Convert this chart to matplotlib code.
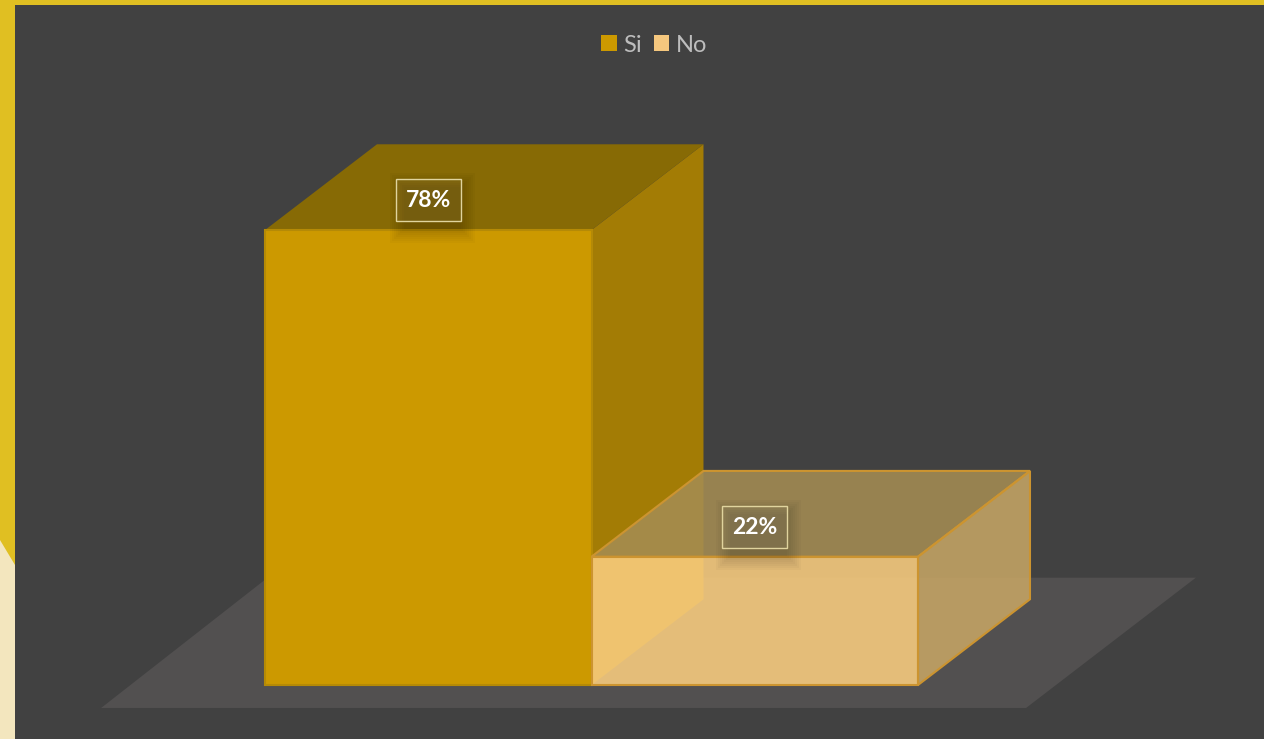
import matplotlib
matplotlib.use("Agg")
import matplotlib.pyplot as plt
from matplotlib.patches import Patch, Polygon, Rectangle

categories = ["Si", "No"]
values = [78, 22]
value_labels = ["78%", "22%"]

BG = "#414141"
FRAME_YELLOW = "#E0BF22"
FRAME_CREAM = "#F3E6BE"
FLOOR = "#525050"

# front, top and side colours of each bar
FRONT = ["#CC9900", "#FCCF80"]
TOP = ["#876A05", "#A58D53"]
SIDE = ["#A37C05", "#C7A665"]
EDGE = ["#B58A06", "#CC9430"]
ALPHA = [1.0, 0.865]

# 3d look: how far the back face sits from the front face, in data units
DEPTH_X = 0.343
DEPTH_Y = 14.7
BAR_W = 1.0

W, H = 1264, 739
PX_PER_X = 326.5
PX_PER_Y = 5.833
X0_PX, Y0_PX = 265, 685

fig = plt.figure(figsize=(W / 100, H / 100), dpi=100, facecolor=BG)
ax = fig.add_axes([0, 0, 1, 1], facecolor=BG)
ax.set_xlim(-X0_PX / PX_PER_X, (W - X0_PX) / PX_PER_X)
ax.set_ylim(-(H - Y0_PX) / PX_PER_Y, Y0_PX / PX_PER_Y)
ax.axis("off")

# yellow / cream frame of the slide, in axes fractions
frame = ax.transAxes
ax.add_patch(Rectangle((0, 1 - 5 / H), 1, 5 / H, transform=frame, fc=FRAME_YELLOW, ec="none"))
ax.add_patch(Rectangle((0, 0), 15 / W, 1, transform=frame, fc=FRAME_YELLOW, ec="none"))
ax.add_patch(Polygon([(0, 0), (15 / W, 0), (15 / W, 1 - 565 / H), (0, 1 - 540 / H)],
                     transform=frame, fc=FRAME_CREAM, ec="none"))

# floor
fl, fr, fb, ft = -0.502, 2.331, -3.94, 18.4
ax.add_patch(Polygon([(fl, fb), (fr, fb), (fr + 0.52, ft), (fl + 0.51, ft)],
                     fc=FLOOR, ec="none", zorder=1))


def draw_bar(i, zorder):
    x0, x1, v = i, i + BAR_W, values[i]
    a = ALPHA[i]
    top = [(x0, v), (x1, v), (x1 + DEPTH_X, v + DEPTH_Y), (x0 + DEPTH_X, v + DEPTH_Y)]
    side = [(x1, 0), (x1 + DEPTH_X, DEPTH_Y), (x1 + DEPTH_X, v + DEPTH_Y), (x1, v)]
    front = [(x0, 0), (x1, 0), (x1, v), (x0, v)]
    for pts, col in ((side, SIDE[i]), (top, TOP[i]), (front, FRONT[i])):
        ax.add_patch(Polygon(pts, fc=col, ec="none", alpha=a, zorder=zorder))
        # the big bar only has a visible outline on its front face
        if i == 1 or pts is front:
            ax.add_patch(Polygon(pts, fc="none", ec=EDGE[i], lw=1.5, zorder=zorder + 0.1))


draw_bar(0, 2)
draw_bar(1, 3)

# value labels sit on the top face, with a soft shadow and a thin box
box_w, box_h = 65 / PX_PER_X, 42 / PX_PER_Y
for i, lab in enumerate(value_labels):
    cx = i + 0.5
    cy = values[i] + 5.1
    for k in range(8):
        grow = k * 2.0
        ax.add_patch(Rectangle((cx - box_w / 2 + (8 - grow) / PX_PER_X, cy - box_h / 2 - (8 + grow) / PX_PER_Y),
                               box_w + 2 * grow / PX_PER_X - 8 / PX_PER_X,
                               box_h + 2 * grow / PX_PER_Y,
                               fc="black", ec="none", alpha=0.022, zorder=5))
    ax.add_patch(Rectangle((cx - box_w / 2, cy - box_h / 2), box_w, box_h,
                           fc=(1, 1, 1, 0.06), ec="#E0D49E", lw=1.0, zorder=6))
    ax.text(cx, cy - 0.1, lab, color="white", fontsize=16.5, fontweight="bold",
            family="Lato", ha="center", va="center", zorder=7)

handles = [Patch(fc=FRONT[0], ec="none"), Patch(fc="#F5C77E", ec="none")]
ax.legend(handles, categories, loc="center", bbox_to_anchor=(654.5 / W, 1 - 45 / H),
          ncol=2, frameon=False, handlelength=0.64, handleheight=0.64, handletextpad=0.3,
          columnspacing=0.5, labelcolor="#BDBDBD", prop={"family": "Lato", "size": 17})

fig.savefig("out.png", dpi=100, facecolor=BG)
